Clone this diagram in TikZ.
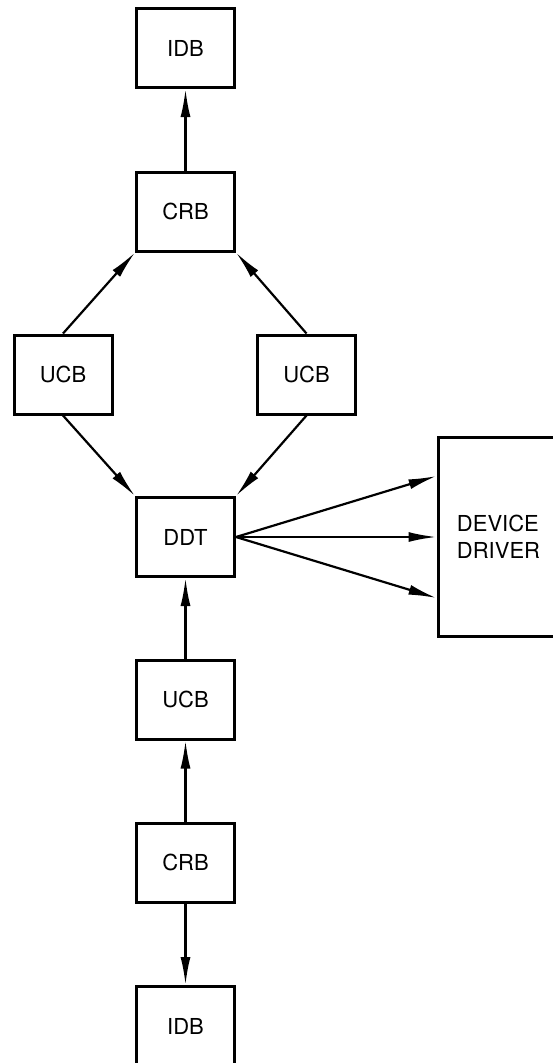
\documentclass[tikz,border=0pt]{standalone}
\usepackage{fontspec}
\setmainfont{TeX Gyre Heros}
\usetikzlibrary{arrows.meta}

\begin{document}
\begin{tikzpicture}[x=1pt,y=-1pt,
		blk/.style={draw,line width=3pt,minimum width=98pt,minimum height=79pt,inner sep=0pt,font=\fontsize{22}{27}\selectfont},
		link/.style={-{Latex[length=28pt,width=10pt]},line width=2.2pt}]
		\clip (0,0) rectangle (553,1063);
		\node[blk] (idbtop) at (185.5,48) {IDB};
		\node[blk] (crbtop) at (185.5,211.5) {CRB};
		\node[blk] (ucbleft) at (63,374.5) {UCB};
		\node[blk] (ucbright) at (306.5,374.5) {UCB};
		\node[blk] (ddt) at (185.5,537) {DDT};
		\node[blk,minimum width=121pt,minimum height=199pt,align=left] (driver) at (498.5,537) {DEVICE\\DRIVER};
		\node[blk] (ucbbot) at (185.5,699.5) {UCB};
		\node[blk] (crbbot) at (185.5,862.5) {CRB};
		\node[blk] (idbbot) at (185.5,1026) {IDB};
		% upper chain
		\draw[link] (crbtop) -- (idbtop);
		\draw[link] (ucbleft.north) -- (crbtop.south west);
		\draw[link] (ucbright.north) -- (crbtop.south east);
		\draw[link] (ucbleft.south) -- (ddt.north west);
		\draw[link] (ucbright.south) -- (ddt.north east);
		% fan out to the driver
		\draw[link] (ddt.east) -- ([yshift=61pt]driver.west);
		\draw[link] (ddt.east) -- (driver.west);
		\draw[link] (ddt.east) -- ([yshift=-61pt]driver.west);
		% lower chain
		\draw[link] (ucbbot) -- (ddt);
		\draw[link] (crbbot) -- (ucbbot);
		\draw[link] (crbbot) -- (idbbot);
	\end{tikzpicture}
\end{document}
